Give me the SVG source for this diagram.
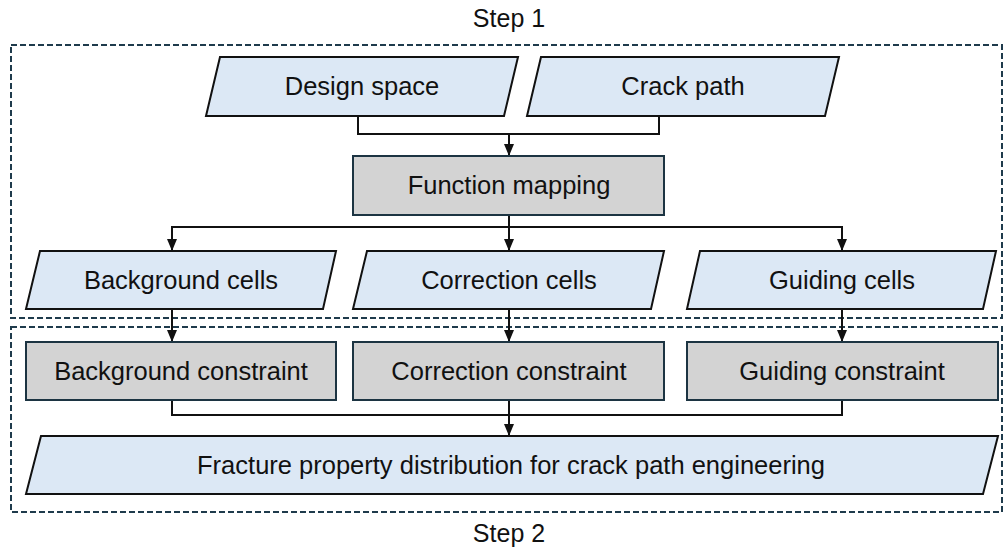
<svg xmlns="http://www.w3.org/2000/svg" width="1005" height="556" viewBox="0 0 1005 556">
<style>
text{font-family:"Liberation Sans",Arial,sans-serif;font-size:25.5px;fill:#111;text-anchor:middle}
.step{font-size:25px}
.io{fill:#dce8f5;stroke:#111;stroke-width:2}
.proc{fill:#d3d3d3;stroke:#1c3442;stroke-width:2}
.grp{fill:none;stroke:#1f3b4c;stroke-width:2;stroke-dasharray:6 3}
.conn{fill:none;stroke:#111;stroke-width:2}
</style>
<defs>
<marker id="ah" viewBox="0 0 10 10" refX="10" refY="5" markerWidth="6" markerHeight="6" markerUnits="userSpaceOnUse" orient="auto">
<path d="M0,0 L10,5 L0,10 z" fill="#111"/>
</marker>
<marker id="arr" viewBox="0 0 12 12" refX="12" refY="6" markerWidth="12" markerHeight="12" markerUnits="userSpaceOnUse" orient="auto">
<path d="M0,1 L12,6 L0,11 z" fill="#111"/>
</marker>
</defs>
<g id="step1">
<rect class="grp" x="11" y="45" width="991" height="273"/>
<text class="step" x="509" y="27">Step 1</text>
</g>
<g id="step2">
<rect class="grp" x="11" y="327" width="991" height="185"/>
<text class="step" x="509" y="542">Step 2</text>
</g>
<g id="connectors">
<path class="conn" d="M358,116 V134 H659 V116"/>
<path class="conn" d="M509,134 V156" marker-end="url(#arr)"/>
<path class="conn" d="M509,215 V251" marker-end="url(#arr)"/>
<path class="conn" d="M172,251 V227 H842 V251" />
<path class="conn" d="M172,227 V251" marker-end="url(#arr)"/>
<path class="conn" d="M842,227 V251" marker-end="url(#arr)"/>
<path class="conn" d="M172,309 V342" marker-end="url(#arr)"/>
<path class="conn" d="M509,309 V342" marker-end="url(#arr)"/>
<path class="conn" d="M842,309 V342" marker-end="url(#arr)"/>
<path class="conn" d="M172,400 V415 H842 V400"/>
<path class="conn" d="M509,400 V436" marker-end="url(#arr)"/>
</g>
<g id="design-space">
<polygon class="io" points="220,57 518,57 504,116 206,116"/>
<text x="362" y="95">Design space</text>
</g>
<g id="crack-path">
<polygon class="io" points="541,57 839,57 825,116 527,116"/>
<text x="683" y="95">Crack path</text>
</g>
<g id="function-mapping">
<rect class="proc" x="353" y="156" width="311" height="59"/>
<text x="509" y="194">Function mapping</text>
</g>
<g id="background-cells">
<polygon class="io" points="40,251 336,251 323,309 26,309"/>
<text x="181" y="289">Background cells</text>
</g>
<g id="correction-cells">
<polygon class="io" points="367,251 664,251 651,309 353,309"/>
<text x="509" y="289">Correction cells</text>
</g>
<g id="guiding-cells">
<polygon class="io" points="700,251 996,251 983,309 687,309"/>
<text x="842" y="289">Guiding cells</text>
</g>
<g id="background-constraint">
<rect class="proc" x="26" y="342" width="310" height="58"/>
<text x="181" y="380">Background constraint</text>
</g>
<g id="correction-constraint">
<rect class="proc" x="353" y="342" width="311" height="58"/>
<text x="509" y="380">Correction constraint</text>
</g>
<g id="guiding-constraint">
<rect class="proc" x="687" y="342" width="311" height="58"/>
<text x="842" y="380">Guiding constraint</text>
</g>
<g id="fracture-property">
<polygon class="io" points="41,436 998,436 983,494 26,494"/>
<text x="511" y="474">Fracture property distribution for crack path engineering</text>
</g>
</svg>
